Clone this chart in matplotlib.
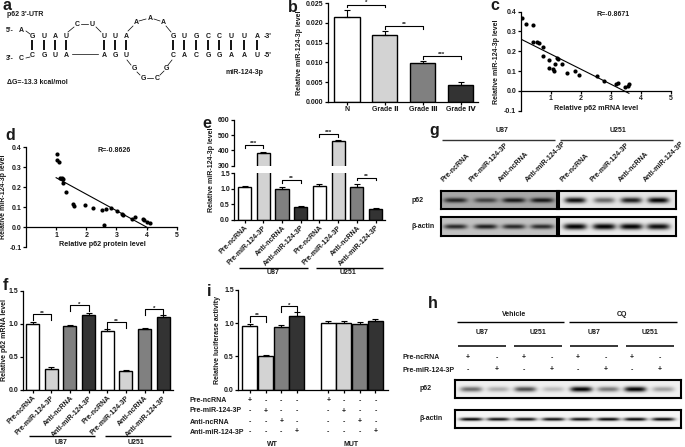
import matplotlib
matplotlib.use('Agg')
import matplotlib.pyplot as plt
import numpy as np

plt.rcParams['font.family'] = ['Liberation Sans', 'DejaVu Sans']
plt.rcParams['font.weight'] = 'bold'
plt.rcParams['font.size'] = 5
plt.rcParams['text.color'] = '#1a1a1a'
plt.rcParams['xtick.labelcolor'] = '#1a1a1a'
plt.rcParams['ytick.labelcolor'] = '#1a1a1a'

W, H = 685, 447

# Panel b
grades = ['N', 'Grade Ⅱ', 'Grade Ⅲ', 'Grade Ⅳ']
b_vals = [0.0215, 0.0168, 0.0098, 0.0043]
b_errs = [0.0017, 0.0011, 0.0006, 0.0008]
b_brackets = [(0, 1, 0.0246, '*'), (1, 2, 0.0192, '**'), (2, 3, 0.0116, '***')]

# Panel c
c_x = [0.05, 0.17, 0.40, 0.40, 0.54, 0.60, 0.73, 0.73, 0.95, 0.93, 1.06, 1.10, 1.13,
       1.20, 1.25, 1.36, 1.53, 1.79, 1.94, 2.54, 2.76, 3.17, 3.23, 3.46, 3.56, 3.59]
c_y = [0.366, 0.337, 0.331, 0.248, 0.245, 0.243, 0.223, 0.176, 0.156, 0.115, 0.113, 0.098, 0.138,
       0.164, 0.159, 0.137, 0.091, 0.100, 0.078, 0.073, 0.049, 0.034, 0.042, 0.022, 0.024, 0.036]
c_fit_x = [0.0, 3.6]
c_fit_y = [0.262, -0.012]

# Panel d
d_x = [1.02, 1.03, 1.08, 1.13, 1.20, 1.22, 1.24, 1.32, 1.55, 1.59, 1.97, 2.22, 2.51,
       2.64, 2.58, 2.81, 3.02, 3.18, 3.21, 3.52, 3.62, 3.87, 3.90, 4.01, 4.11]
d_y = [0.365, 0.338, 0.328, 0.248, 0.245, 0.243, 0.224, 0.176, 0.117, 0.105, 0.113, 0.098, 0.089,
       0.090, 0.010, 0.095, 0.084, 0.069, 0.060, 0.044, 0.050, 0.042, 0.038, 0.027, 0.023]
d_fit_x = [1.0, 4.05]
d_fit_y = [0.248, -0.003]

# Panels e, f
treatments = ['Pre-ncRNA', 'Pre-miR-124-3P', 'Anti-ncRNA', 'Anti-miR-124-3P'] * 2
e_vals = [1.05, 380, 1.0, 0.40, 1.10, 460, 1.07, 0.36]
e_errs = [0.05, 10, 0.06, 0.03, 0.04, 5, 0.08, 0.02]
e_low_brackets = [(2, 3, 1.28, '**'), (6, 7, 1.36, '**')]
e_up_brackets = [(0, 1, 435, '***'), (4, 5, 507, '***')]

f_vals = [1.0, 0.31, 0.965, 1.13, 0.895, 0.28, 0.92, 1.10]
f_errs = [0.03, 0.03, 0.015, 0.04, 0.03, 0.015, 0.02, 0.03]
f_brackets = [(0, 1, 1.148, '**'), (2, 3, 1.28, '*'), (4, 5, 1.03, '**'), (6, 7, 1.22, '*')]

# Panel i
i_pos = [0, 1, 2, 3, 5, 6, 7, 8]
i_vals = [0.96, 0.51, 0.94, 1.115, 1.0, 1.0, 0.99, 1.03]
i_errs = [0.03, 0.01, 0.04, 0.05, 0.03, 0.03, 0.03, 0.03]
i_brackets = [(0, 1, 1.11, '**'), (2, 3, 1.264, '*')]

# Blots: band strengths
g_p62_u87 = [0.80, 0.62, 0.88, 0.88]
g_p62_u251 = [0.95, 0.55, 0.88, 1.0]
g_act_u87 = [0.80, 0.85, 0.80, 0.78]
g_act_u251 = [1.0, 1.0, 1.0, 0.95]
h_p62 = [0.55, 0.28, 0.68, 0.22, 1.0, 0.5, 1.0, 0.33]
h_act = [1.0, 0.95, 0.95, 0.95, 0.95, 1.0, 1.0, 1.0]

bar_colors = ['white', '#d3d3d3', '#808080', '#333333'] * 2

fig = plt.figure(figsize=(W / 100, H / 100), dpi=100)

# overlay in pixel coordinates for all the loose text and lines
ov = fig.add_axes([0, 0, 1, 1], zorder=5)
ov.set_xlim(0, W)
ov.set_ylim(H, 0)
ov.axis('off')
ov.patch.set_alpha(0)


def px_ax(l, t, r, b):
    return fig.add_axes([l / W, 1 - b / H, (r - l) / W, (b - t) / H])


def txt(x, y, s, size=5, ha='center', va='center', **kw):
    ov.text(x, y, s, fontsize=size, ha=ha, va=va, **kw)


def hline(x0, x1, y, lw=1.0, color='black'):
    ov.plot([x0, x1], [y, y], color=color, lw=lw, solid_capstyle='butt')


def style(ax, lw=0.9):
    ax.spines['top'].set_visible(False)
    ax.spines['right'].set_visible(False)
    ax.spines['left'].set_linewidth(lw)
    ax.spines['bottom'].set_linewidth(lw)
    ax.tick_params(width=lw, length=2.2, labelsize=5, pad=1)
    ax.patch.set_alpha(0)


def bars(ax, pos, vals, errs, colors, width):
    ax.bar(pos, vals, width=width, color=colors, edgecolor='black', linewidth=1.0)
    ax.errorbar(pos, vals, yerr=[np.zeros(len(errs)), errs], fmt='none', ecolor='black',
                elinewidth=0.8, capsize=2, capthick=0.8)


def brackets(ax, items, tip, size=4.5):
    for i, j, y, s in items:
        ax.plot([i, i, j, j], [y - tip, y, y, y - tip], color='black', lw=0.8, clip_on=False)
        ax.text((i + j) / 2, y - tip * 0.3, s, ha='center', va='bottom', fontsize=size, clip_on=False)


def blot(box, centers, strengths, bg, wx, wy, lw=1.5):
    l, t, r, b = box
    ax = px_ax(l, t, r, b)
    xx, yy = np.meshgrid(np.arange(l, r, 0.5), np.arange(t, b, 0.5))
    img = np.full(xx.shape, float(bg))
    yc = (t + b) / 2
    for c, s in zip(centers, strengths):
        img = img * (1 - s * np.exp(-((xx - c) / wx) ** 4 - ((yy - yc) / wy) ** 2))
    ax.imshow(img, cmap='gray', vmin=0, vmax=1, aspect='auto', extent=[l, r, b, t],
              interpolation='bilinear')
    ax.set_xticks([])
    ax.set_yticks([])
    for sp in ax.spines.values():
        sp.set_linewidth(lw)


# --- a: RNA duplex
top_x = [32, 44, 55, 66, 104, 115, 126, 173, 184, 196, 208, 219, 231, 244, 257]
top_nt = list('GUAUUUAGUGCCUUA')
low_nt = list('CGUAAGUCACGGAAU')
for x, t, lo in zip(top_x, top_nt, low_nt):
    txt(x, 36, t)
    txt(x, 55.7, lo)
    ov.plot([x, x], [40, 50], color='black', lw=1.3, solid_capstyle='butt')
for x, y, s in [(21, 30, 'A'), (21, 59, 'C'), (77, 24, 'C'), (92, 24, 'U'), (136, 23, 'A'),
                (150, 18, 'A'), (163, 23, 'A'), (134, 68, 'G'), (143, 78, 'G'), (157, 78, 'C'),
                (166, 68, 'G')]:
    txt(x, y, s)
for seg in [(26, 31, 30, 34), (26, 58, 30, 57), (68, 32, 74, 27), (81, 24, 88, 24), (96, 27, 101, 32),
            (128, 31, 133, 26), (139, 21, 146, 19), (154, 19, 160, 21), (166, 26, 171, 32),
            (127, 60, 131, 65), (137, 72, 140, 75), (147, 78, 153, 78), (160, 75, 164, 71),
            (168, 65, 172, 60), (72, 54, 98, 54)]:
    ov.plot([seg[0], seg[2]], [seg[1], seg[3]], color='black', lw=0.5)
txt(6, 30, "5'-", ha='left')
txt(6, 59, "3'-", ha='left')
txt(264, 36, "-3'", ha='left')
txt(264, 55.7, "-5'", ha='left')
txt(7, 15, "p62 3'-UTR", ha='left')
txt(7, 83, 'ΔG=-13.3 kcal/mol', ha='left')
txt(226, 72, 'miR-124-3p', ha='left')

# --- b
ax = px_ax(328, 3, 478, 102)
style(ax)
bars(ax, range(4), b_vals, b_errs, bar_colors[:4], 0.66)
ax.set_xlim(-0.5, 3.45)
ax.set_ylim(0, 0.025)
ax.set_yticks([0, 0.005, 0.01, 0.015, 0.02, 0.025])
ax.set_yticklabels(['0.000', '0.005', '0.010', '0.015', '0.020', '0.025'])
ax.set_xticks(range(4))
ax.set_xticklabels(grades, fontsize=5)
ax.tick_params(axis='x', length=2.2)
brackets(ax, b_brackets, 0.0007)
txt(300, 53, 'Relative miR-124-3p level', rotation=90)

# --- c
ax = px_ax(520.7, 11.7, 671, 110.7)
style(ax)
ax.scatter(c_x, c_y, s=9, color='black', linewidths=0, zorder=3)
ax.plot(c_fit_x, c_fit_y, color='black', lw=0.8)
ax.set_xlim(0, 5)
ax.set_ylim(-0.1, 0.4)
ax.spines['bottom'].set_position(('data', 0))
ax.set_xticks([1, 2, 3, 4, 5])
ax.set_yticks([-0.1, 0, 0.1, 0.2, 0.3, 0.4])
ax.set_yticklabels(['-0.1', '0.0', '0.1', '0.2', '0.3', '0.4'])
txt(596, 108, 'Relative p62 mRNA level', size=5.2)
txt(497, 62, 'Relative miR-124-3p level', rotation=90)
txt(613, 14, 'R=-0.8671')

# --- d
ax = px_ax(26, 147.3, 176.7, 247.3)
style(ax)
ax.scatter(d_x, d_y, s=9, color='black', linewidths=0, zorder=3)
ax.plot(d_fit_x, d_fit_y, color='black', lw=0.8)
ax.set_xlim(0, 5)
ax.set_ylim(-0.1, 0.4)
ax.spines['bottom'].set_position(('data', 0))
ax.set_xticks([1, 2, 3, 4, 5])
ax.set_yticks([-0.1, 0, 0.1, 0.2, 0.3, 0.4])
ax.set_yticklabels(['-0.1', '0.0', '0.1', '0.2', '0.3', '0.4'])
txt(102, 244, 'Relative p62 protein level', size=5.2)
txt(4, 197, 'Relative miR-124-3p level', rotation=90)
txt(114, 151, 'R=-0.8626')

# --- e: broken y axis
e_xlim = (-0.55, 7.5)
up = px_ax(234.3, 119.7, 385, 165.7)
style(up)
bars(up, range(8), e_vals, e_errs, bar_colors, 0.7)
up.set_xlim(e_xlim)
up.set_ylim(300, 600)
up.set_yticks([300, 400, 500, 600])
up.set_xticks([])
up.spines['bottom'].set_visible(False)
brackets(up, e_up_brackets, 18)

low = px_ax(234.3, 173.3, 385, 219.7)
style(low)
bars(low, range(8), e_vals, e_errs, bar_colors, 0.7)
low.set_xlim(e_xlim)
low.set_ylim(0, 1.5)
low.set_yticks([0, 0.5, 1.0, 1.5])
low.set_yticklabels(['0.0', '0.5', '1.0', '1.5'])
low.set_xticks(range(8))
low.set_xticklabels(treatments, rotation=45, ha='right', rotation_mode='anchor', fontsize=5)
brackets(low, e_low_brackets, 0.09)
txt(212, 170, 'Relative miR-124-3p level', rotation=90)
hline(239, 307.7, 267.7)
hline(315.7, 383, 267.7)
txt(272.7, 273, 'U87')
txt(347.7, 273, 'U251')

# --- f
ax = px_ax(22.7, 290.7, 173, 390)
style(ax)
bars(ax, range(8), f_vals, f_errs, bar_colors, 0.7)
ax.set_xlim(-0.53, 7.52)
ax.set_ylim(0, 1.5)
ax.set_yticks([0, 0.5, 1.0, 1.5])
ax.set_yticklabels(['0.0', '0.5', '1.0', '1.5'])
ax.set_xticks(range(8))
ax.set_xticklabels(treatments, rotation=45, ha='right', rotation_mode='anchor', fontsize=5)
brackets(ax, f_brackets, 0.09)
txt(4.7, 340, 'Relative p62 mRNA level', rotation=90)
hline(29, 95, 436)
hline(105, 171, 436)
txt(61, 442, 'U87')
txt(136, 442, 'U251')

# --- i
ax = px_ax(238.3, 290, 388, 389.7)
style(ax)
bars(ax, i_pos, i_vals, i_errs, bar_colors, 0.95)
ax.set_xlim(-0.74, 8.82)
ax.set_ylim(0, 1.5)
ax.set_yticks([0, 0.5, 1.0, 1.5])
ax.set_yticklabels(['0.0', '0.5', '1.0', '1.5'])
ax.set_xticks(i_pos)
ax.set_xticklabels([])
brackets(ax, i_brackets, 0.09)
txt(218, 340, 'Relative luciferase activity', rotation=90)
i_cols = [250, 265.7, 281.3, 297, 328.3, 344, 359.7, 375.7]
i_rows = [400.7, 411, 422, 432]
for r, y in enumerate(i_rows):
    txt(190, y, treatments[r], ha='left')
    for c, x in enumerate(i_cols):
        txt(x, y, '+' if c % 4 == r else '-')
txt(272, 444, 'WT')
txt(351, 444, 'MUT')

# --- g
g_u87_x = [455, 485, 513, 541]
g_u251_x = [575, 604, 631, 658]
blot((440.7, 190.7, 556.7, 208.7), g_u87_x, g_p62_u87, 0.66, 11.5, 2.4)
blot((559, 190.7, 675.7, 208.7), g_u251_x, g_p62_u251, 0.90, 10.5, 2.8)
blot((440.7, 217.3, 556.7, 236), g_u87_x, g_act_u87, 0.76, 11.5, 2.4)
blot((559, 217.3, 675.7, 236), g_u251_x, g_act_u251, 0.92, 11.5, 3.0)
hline(442, 555, 140, lw=1.0, color='#333333')
hline(560, 673, 140, lw=1.0, color='#333333')
txt(502, 130, 'U87')
txt(618, 131, 'U251')
for x, s in zip([445, 473, 502, 529, 564, 594, 622, 647], treatments):
    txt(x, 183, s, ha='left', va='bottom', rotation=45, rotation_mode='anchor')
txt(412, 201, 'p62', ha='left')
txt(412, 227, 'β-actin', ha='left')

# --- h
h_x = [471, 498, 525, 553, 581, 608, 635, 663]
blot((455, 380, 681, 398), h_x, h_p62, 0.94, 11, 2.6)
blot((455, 410, 681, 428), h_x, h_act, 0.96, 11.5, 1.6)
txt(514, 314, 'Vehicle')
txt(622, 314, 'CQ')
hline(457, 564, 321.7)
hline(569, 677, 321.7)
for x, s in zip([482, 538, 594, 650], ['U87', 'U251', 'U87', 'U251']):
    txt(x, 333, s)
for x0, x1 in [(458, 506), (514, 562), (570, 618), (626, 674)]:
    hline(x0, x1, 345.7, lw=1.1)
h_cols = [468, 497, 524, 552, 578, 606, 632, 660]
for c, x in enumerate(h_cols):
    txt(x, 357.3, '+' if c % 2 == 0 else '-')
    txt(x, 370, '-' if c % 2 == 0 else '+')
txt(403, 357.3, 'Pre-ncRNA', ha='left')
txt(403, 370, 'Pre-miR-124-3P', ha='left')
txt(420, 388, 'p62', ha='left')
txt(420, 418, 'β-actin', ha='left')

# panel letters
for x, y, s in [(3, 6, 'a'), (288, 7, 'b'), (490, 6, 'c'), (5, 136, 'd'), (202, 123, 'e'),
                (429, 131, 'g'), (3, 286, 'f'), (207, 292, 'i'), (428, 303, 'h')]:
    txt(x, y, s, size=11.5, ha='left')

fig.savefig('out.png', dpi=100)
